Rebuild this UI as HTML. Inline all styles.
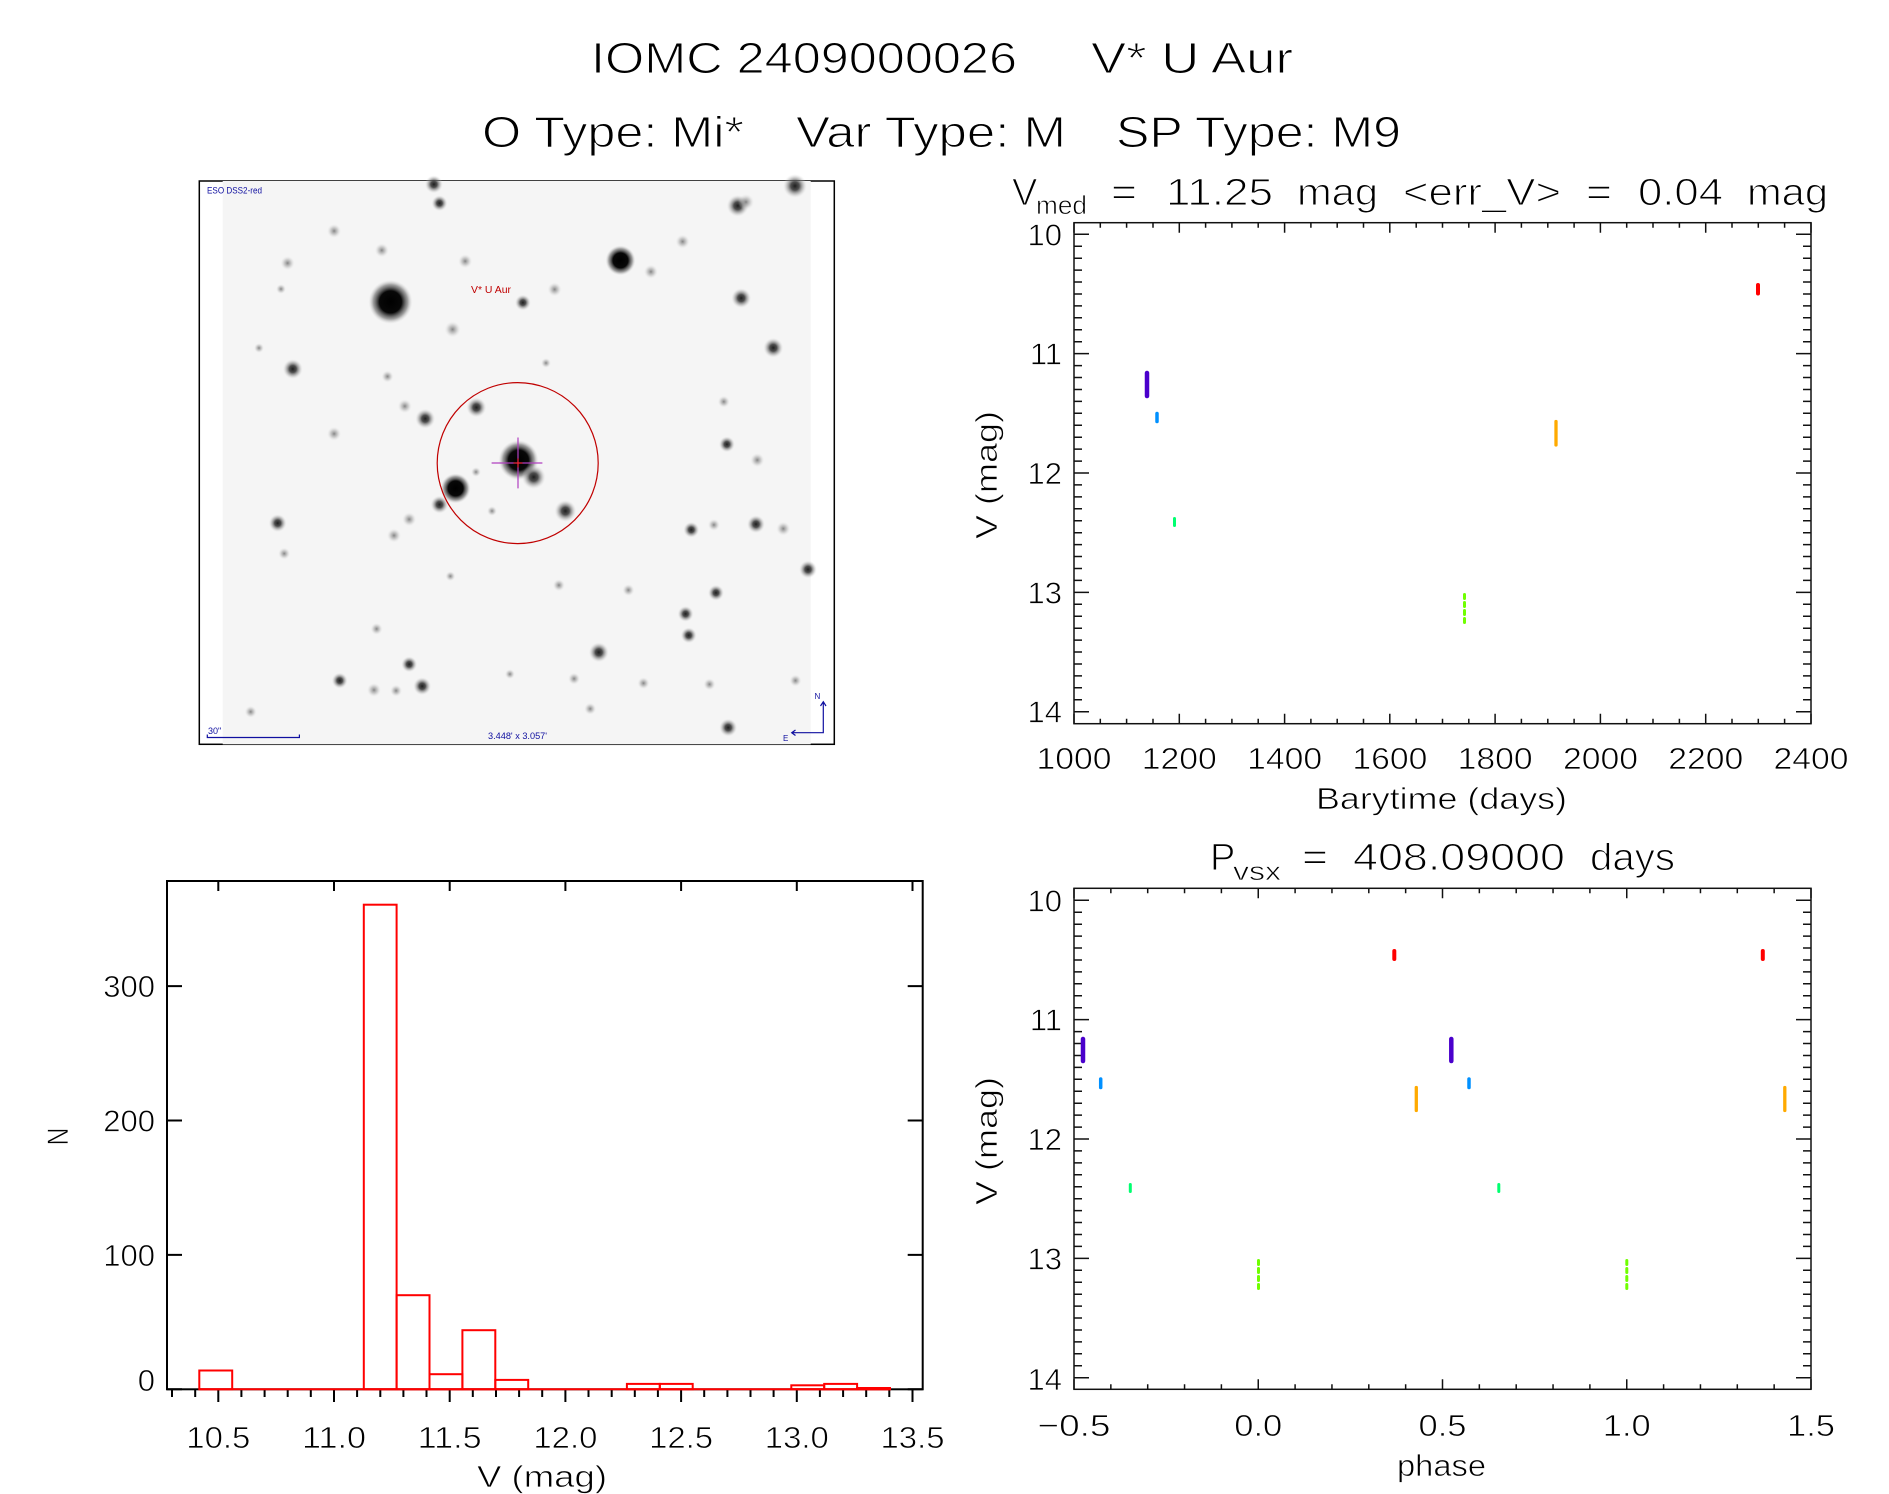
<!DOCTYPE html>
<html><head><meta charset="utf-8"><style>
html,body{margin:0;padding:0;background:#fff;}
svg{display:block;}
text{font-family:"Liberation Sans",Arial,sans-serif;fill:#000;stroke:#fff;stroke-width:0.7px;}
text.big{stroke-width:1.1px;}
text.img{stroke:none;}
</style></head><body>
<svg width="1889" height="1494" viewBox="0 0 1889 1494" xmlns="http://www.w3.org/2000/svg">
<defs>
<radialGradient id="g1"><stop offset="0" stop-color="#000" stop-opacity="1"/><stop offset="0.5" stop-color="#080808" stop-opacity="1"/><stop offset="0.78" stop-color="#555" stop-opacity="0.55"/><stop offset="1" stop-color="#ccc" stop-opacity="0"/></radialGradient>
<radialGradient id="g2"><stop offset="0" stop-color="#1e1e1e" stop-opacity="1"/><stop offset="0.35" stop-color="#383838" stop-opacity="0.88"/><stop offset="0.7" stop-color="#8a8a8a" stop-opacity="0.42"/><stop offset="1" stop-color="#ddd" stop-opacity="0"/></radialGradient>
<radialGradient id="g3"><stop offset="0" stop-color="#707070" stop-opacity="0.85"/><stop offset="0.5" stop-color="#9a9a9a" stop-opacity="0.45"/><stop offset="1" stop-color="#ddd" stop-opacity="0"/></radialGradient>
<path id="ytl" d="M0 0h15M0 11.9h8M0 23.9h8M0 35.8h8M0 47.7h8M0 59.7h8M0 71.6h8M0 83.5h8M0 95.5h8M0 107.4h8M0 119.35h15M0 131.3h8M0 143.2h8M0 155.2h8M0 167.1h8M0 179h8M0 191h8M0 202.9h8M0 214.8h8M0 226.8h8M0 238.7h15M0 250.6h8M0 262.6h8M0 274.5h8M0 286.4h8M0 298.4h8M0 310.3h8M0 322.2h8M0 334.2h8M0 346.1h8M0 358.1h15M0 370h8M0 381.9h8M0 393.9h8M0 405.8h8M0 417.7h8M0 429.7h8M0 441.6h8M0 453.5h8M0 465.5h8M0 477.4h15" fill="none" stroke="#111" stroke-width="1.5"/>
<g id="ytk"><use href="#ytl"/><use href="#ytl" transform="translate(737 0) scale(-1 1)"/></g>
<path id="xtt" d="M0 0v10M26.3 0v5M52.6 0v5M79 0v5M105.3 0v10M131.6 0v5M157.9 0v5M184.2 0v5M210.6 0v10M236.9 0v5M263.2 0v5M289.5 0v5M315.8 0v10M342.2 0v5M368.5 0v5M394.8 0v5M421.1 0v10M447.4 0v5M473.8 0v5M500.1 0v5M526.4 0v10M552.7 0v5M579 0v5M605.4 0v5M631.7 0v10M658 0v5M684.3 0v5M710.6 0v5M737 0v10" fill="none" stroke="#111" stroke-width="1.5"/>
<g id="xtk"><use href="#xtt"/><use href="#xtt" transform="translate(0 501) scale(1 -1)"/></g>
<path id="xpt" d="M0 0v10M36.85 0v5M73.7 0v5M110.55 0v5M147.4 0v5M184.25 0v10M221.1 0v5M257.95 0v5M294.8 0v5M331.65 0v5M368.5 0v10M405.35 0v5M442.2 0v5M479.05 0v5M515.9 0v5M552.75 0v10M589.6 0v5M626.45 0v5M663.3 0v5M700.15 0v5M737 0v10" fill="none" stroke="#111" stroke-width="1.5"/>
<g id="xpk"><use href="#xpt"/><use href="#xpt" transform="translate(0 501) scale(1 -1)"/></g>
</defs>

<!-- Titles -->
<text class="big" x="591" y="73" font-size="44" textLength="426" lengthAdjust="spacingAndGlyphs">IOMC 2409000026</text>
<text class="big" x="1091" y="73" font-size="44" textLength="202" lengthAdjust="spacingAndGlyphs">V* U Aur</text>
<text class="big" x="482" y="147" font-size="44" textLength="262" lengthAdjust="spacingAndGlyphs">O Type: Mi*</text>
<text class="big" x="796" y="147" font-size="44" textLength="270" lengthAdjust="spacingAndGlyphs">Var Type: M</text>
<text class="big" x="1116" y="147" font-size="44" textLength="285" lengthAdjust="spacingAndGlyphs">SP Type: M9</text>

<!-- Image panel -->
<rect x="199.3" y="181" width="635" height="563.3" fill="#fff" stroke="#000" stroke-width="1.5"/>
<rect x="222.7" y="181" width="588" height="563.3" fill="#f5f5f5"/>
<g>
<circle cx="390.5" cy="301.9" r="22" fill="url(#g1)"/>
<circle cx="620.5" cy="260.4" r="15" fill="url(#g1)"/>
<circle cx="518.5" cy="460.1" r="20" fill="url(#g1)"/>
<circle cx="533.7" cy="477.1" r="12" fill="url(#g2)"/>
<circle cx="455.6" cy="488.4" r="15" fill="url(#g1)"/>
<circle cx="565.4" cy="511" r="11" fill="url(#g2)"/>
<circle cx="425.2" cy="418.7" r="10" fill="url(#g2)"/>
<circle cx="476.4" cy="407.4" r="10" fill="url(#g2)"/>
<circle cx="292.8" cy="369" r="10" fill="url(#g2)"/>
<circle cx="773.3" cy="347.8" r="10" fill="url(#g2)"/>
<circle cx="741.2" cy="298.1" r="10" fill="url(#g2)"/>
<circle cx="737.7" cy="205.8" r="11" fill="url(#g2)"/>
<circle cx="746" cy="202" r="8" fill="url(#g3)"/>
<circle cx="795" cy="186" r="12" fill="url(#g2)"/>
<circle cx="433.9" cy="184.3" r="9" fill="url(#g2)"/>
<circle cx="439.5" cy="203.2" r="8" fill="url(#g2)"/>
<circle cx="277.7" cy="523.1" r="9" fill="url(#g2)"/>
<circle cx="439.5" cy="504.6" r="9" fill="url(#g2)"/>
<circle cx="756" cy="524.2" r="9" fill="url(#g2)"/>
<circle cx="808" cy="569.4" r="9" fill="url(#g2)"/>
<circle cx="598.8" cy="652.3" r="10" fill="url(#g2)"/>
<circle cx="422.2" cy="686.2" r="9" fill="url(#g2)"/>
<circle cx="728.2" cy="727.6" r="9" fill="url(#g2)"/>
<circle cx="409.2" cy="664.3" r="8" fill="url(#g2)"/>
<circle cx="339.7" cy="680.6" r="8" fill="url(#g2)"/>
<circle cx="716" cy="592.8" r="8" fill="url(#g2)"/>
<circle cx="685.6" cy="613.9" r="8" fill="url(#g2)"/>
<circle cx="688.7" cy="635.3" r="8" fill="url(#g2)"/>
<circle cx="726.9" cy="444.3" r="8" fill="url(#g2)"/>
<circle cx="691.3" cy="529.8" r="8" fill="url(#g2)"/>
<circle cx="334.1" cy="231" r="7" fill="url(#g3)"/>
<circle cx="381.8" cy="250.3" r="7" fill="url(#g3)"/>
<circle cx="287.6" cy="263.1" r="7" fill="url(#g3)"/>
<circle cx="465.2" cy="261.2" r="7" fill="url(#g3)"/>
<circle cx="682.6" cy="241.6" r="7" fill="url(#g3)"/>
<circle cx="650.9" cy="271.7" r="7" fill="url(#g3)"/>
<circle cx="554.6" cy="289.4" r="7" fill="url(#g3)"/>
<circle cx="522.9" cy="302.6" r="8" fill="url(#g2)"/>
<circle cx="452.6" cy="329.4" r="8" fill="url(#g3)"/>
<circle cx="387.5" cy="376.5" r="6" fill="url(#g3)"/>
<circle cx="404.8" cy="406.2" r="7" fill="url(#g3)"/>
<circle cx="334.1" cy="433.8" r="7" fill="url(#g3)"/>
<circle cx="723.8" cy="401.7" r="6" fill="url(#g3)"/>
<circle cx="757.3" cy="460.1" r="7" fill="url(#g3)"/>
<circle cx="409.2" cy="519.3" r="7" fill="url(#g3)"/>
<circle cx="394" cy="535.5" r="7" fill="url(#g3)"/>
<circle cx="713.9" cy="524.9" r="6" fill="url(#g3)"/>
<circle cx="783.3" cy="528.7" r="7" fill="url(#g3)"/>
<circle cx="284.2" cy="553.6" r="6" fill="url(#g3)"/>
<circle cx="558.9" cy="585.2" r="6" fill="url(#g3)"/>
<circle cx="628.4" cy="590.1" r="6" fill="url(#g3)"/>
<circle cx="374" cy="690" r="7" fill="url(#g3)"/>
<circle cx="396.1" cy="690.7" r="6" fill="url(#g3)"/>
<circle cx="376.6" cy="628.9" r="6" fill="url(#g3)"/>
<circle cx="795.5" cy="680.6" r="6" fill="url(#g3)"/>
<circle cx="643.5" cy="683.2" r="6" fill="url(#g3)"/>
<circle cx="709.5" cy="684.3" r="6" fill="url(#g3)"/>
<circle cx="574.1" cy="678.7" r="6" fill="url(#g3)"/>
<circle cx="509.9" cy="674.1" r="5" fill="url(#g3)"/>
<circle cx="590.2" cy="708.8" r="6" fill="url(#g3)"/>
<circle cx="250.7" cy="711.8" r="6" fill="url(#g3)"/>
<circle cx="450.4" cy="576.2" r="5" fill="url(#g3)"/>
<circle cx="259" cy="348" r="5" fill="url(#g3)"/>
<circle cx="281" cy="289" r="5" fill="url(#g3)"/>
<circle cx="546" cy="363" r="5" fill="url(#g3)"/>
<circle cx="476" cy="472" r="5" fill="url(#g3)"/>
<circle cx="492" cy="511" r="5" fill="url(#g3)"/>
</g>
<circle cx="517.7" cy="463.1" r="80.5" fill="none" stroke="#c00000" stroke-width="1.2"/>
<path d="M491.6 463H542.4M518 437.5V488.4" stroke="#b040c0" stroke-width="1.2" fill="none"/>
<path d="M513.5 463h9M518 458.5v9" stroke="#ff2020" stroke-width="1" fill="none"/>
<text class="img" x="207" y="193.5" font-size="9" style="fill:#1010a0" textLength="55" lengthAdjust="spacingAndGlyphs">ESO DSS2-red</text>
<text class="img" x="471" y="293" font-size="10" style="fill:#c00000" textLength="40" lengthAdjust="spacingAndGlyphs">V* U Aur</text>
<text class="img" x="208" y="734" font-size="9" style="fill:#1010a0">30"</text>
<path d="M207.3 734.5V737.5H299.4V734.5" stroke="#1010a0" stroke-width="1.2" fill="none"/>
<text class="img" x="488" y="739" font-size="9" style="fill:#1010a0" textLength="59" lengthAdjust="spacingAndGlyphs">3.448' x 3.057'</text>
<path d="M823.3 702V732.7H791.7M820.5 706L823.3 701.7L826 706M795.5 730L791.7 732.7L795.5 735.5" stroke="#1010a0" stroke-width="1.2" fill="none"/>
<text class="img" x="814.5" y="699" font-size="8" style="fill:#1010a0">N</text>
<text class="img" x="783" y="741" font-size="8" style="fill:#1010a0">E</text>

<!-- Top-right plot -->
<text class="big" x="1012" y="205" font-size="38">V</text>
<text x="1036" y="214" font-size="26" textLength="51" lengthAdjust="spacingAndGlyphs">med</text>
<text class="big" x="1111" y="205" font-size="38" textLength="26" lengthAdjust="spacingAndGlyphs">=</text>
<text class="big" x="1166" y="205" font-size="38" textLength="107" lengthAdjust="spacingAndGlyphs">11.25</text>
<text class="big" x="1297" y="205" font-size="38" textLength="81" lengthAdjust="spacingAndGlyphs">mag</text>
<text class="big" x="1403" y="205" font-size="38" textLength="158" lengthAdjust="spacingAndGlyphs">&lt;err_V&gt;</text>
<text class="big" x="1586" y="205" font-size="38" textLength="26" lengthAdjust="spacingAndGlyphs">=</text>
<text class="big" x="1638" y="205" font-size="38" textLength="85" lengthAdjust="spacingAndGlyphs">0.04</text>
<text class="big" x="1747" y="205" font-size="38" textLength="81" lengthAdjust="spacingAndGlyphs">mag</text>

<rect x="1074" y="222.7" width="737" height="501" fill="none" stroke="#111" stroke-width="1.5"/>
<use href="#ytk" transform="translate(1074 234.3)"/>
<use href="#xtk" transform="translate(1074 222.7)"/>
<g font-size="31" text-anchor="end">
<text x="1062" y="245.3">10</text><text x="1062" y="364.7">11</text><text x="1062" y="484">12</text><text x="1062" y="603.4">13</text><text x="1062" y="722.7">14</text>
</g>
<g font-size="31" text-anchor="middle">
<text x="1074" y="769" textLength="75" lengthAdjust="spacingAndGlyphs">1000</text>
<text x="1179.3" y="769" textLength="75" lengthAdjust="spacingAndGlyphs">1200</text>
<text x="1284.6" y="769" textLength="75" lengthAdjust="spacingAndGlyphs">1400</text>
<text x="1389.9" y="769" textLength="75" lengthAdjust="spacingAndGlyphs">1600</text>
<text x="1495.2" y="769" textLength="75" lengthAdjust="spacingAndGlyphs">1800</text>
<text x="1600.5" y="769" textLength="75" lengthAdjust="spacingAndGlyphs">2000</text>
<text x="1705.8" y="769" textLength="75" lengthAdjust="spacingAndGlyphs">2200</text>
<text x="1811" y="769" textLength="75" lengthAdjust="spacingAndGlyphs">2400</text>
</g>
<text x="1316" y="809" font-size="31" textLength="251" lengthAdjust="spacingAndGlyphs">Barytime (days)</text>
<text transform="translate(997 475) rotate(-90)" font-size="31" text-anchor="middle" textLength="128" lengthAdjust="spacingAndGlyphs">V (mag)</text>
<g stroke-linecap="round" fill="none">
<line x1="1147" y1="373" x2="1147" y2="396" stroke="#4a00cc" stroke-width="4.5"/>
<line x1="1157" y1="413.5" x2="1157" y2="421.5" stroke="#0090ff" stroke-width="3.5"/>
<line x1="1174.5" y1="518.5" x2="1174.5" y2="525.5" stroke="#00ff70" stroke-width="3"/>
<line x1="1464.5" y1="594.5" x2="1464.5" y2="624" stroke="#70ff00" stroke-width="3" stroke-dasharray="4 4"/>
<line x1="1556" y1="421.5" x2="1556" y2="445" stroke="#ffaa00" stroke-width="3.3"/>
<line x1="1758" y1="285" x2="1758" y2="293.5" stroke="#ff0000" stroke-width="4"/>
</g>

<!-- Phase plot -->
<text class="big" x="1210" y="870" font-size="38">P</text>
<text x="1233" y="880" font-size="26" textLength="48" lengthAdjust="spacingAndGlyphs">vsx</text>
<text class="big" x="1302" y="870" font-size="38" textLength="26" lengthAdjust="spacingAndGlyphs">=</text>
<text class="big" x="1353" y="870" font-size="38" textLength="212" lengthAdjust="spacingAndGlyphs">408.09000</text>
<text class="big" x="1590" y="870" font-size="38" textLength="85" lengthAdjust="spacingAndGlyphs">days</text>

<rect x="1074" y="888.3" width="737" height="501" fill="none" stroke="#111" stroke-width="1.5"/>
<use href="#ytk" transform="translate(1074 900.3)"/>
<use href="#xpk" transform="translate(1074 888.3)"/>
<g font-size="31" text-anchor="end">
<text x="1062" y="911.3">10</text><text x="1062" y="1030.7">11</text><text x="1062" y="1150">12</text><text x="1062" y="1269.4">13</text><text x="1062" y="1390">14</text>
</g>
<g font-size="31" text-anchor="middle">
<text x="1074" y="1436" textLength="73" lengthAdjust="spacingAndGlyphs">−0.5</text>
<text x="1258.25" y="1436" textLength="48" lengthAdjust="spacingAndGlyphs">0.0</text>
<text x="1442.5" y="1436" textLength="48" lengthAdjust="spacingAndGlyphs">0.5</text>
<text x="1626.75" y="1436" textLength="48" lengthAdjust="spacingAndGlyphs">1.0</text>
<text x="1811" y="1436" textLength="48" lengthAdjust="spacingAndGlyphs">1.5</text>
</g>
<text x="1397" y="1476" font-size="31" textLength="89" lengthAdjust="spacingAndGlyphs">phase</text>
<text transform="translate(997 1141) rotate(-90)" font-size="31" text-anchor="middle" textLength="128" lengthAdjust="spacingAndGlyphs">V (mag)</text>
<g stroke-linecap="round" fill="none">
<line x1="1083" y1="1039" x2="1083" y2="1061" stroke="#4a00cc" stroke-width="4.5"/>
<line x1="1451.3" y1="1039" x2="1451.3" y2="1061" stroke="#4a00cc" stroke-width="4.5"/>
<line x1="1100.7" y1="1079" x2="1100.7" y2="1087.5" stroke="#0090ff" stroke-width="3.5"/>
<line x1="1469" y1="1079" x2="1469" y2="1087.5" stroke="#0090ff" stroke-width="3.5"/>
<line x1="1130.3" y1="1184.5" x2="1130.3" y2="1191.5" stroke="#00ff70" stroke-width="3"/>
<line x1="1498.8" y1="1184.5" x2="1498.8" y2="1191.5" stroke="#00ff70" stroke-width="3"/>
<line x1="1394.3" y1="951" x2="1394.3" y2="959" stroke="#ff0000" stroke-width="4"/>
<line x1="1762.8" y1="951" x2="1762.8" y2="959" stroke="#ff0000" stroke-width="4"/>
<line x1="1416.3" y1="1087.5" x2="1416.3" y2="1110.5" stroke="#ffaa00" stroke-width="3.3"/>
<line x1="1784.8" y1="1087.5" x2="1784.8" y2="1110.5" stroke="#ffaa00" stroke-width="3.3"/>
<line x1="1258.5" y1="1260.5" x2="1258.5" y2="1289" stroke="#70ff00" stroke-width="3" stroke-dasharray="4 4"/>
<line x1="1626.8" y1="1260.5" x2="1626.8" y2="1289" stroke="#70ff00" stroke-width="3" stroke-dasharray="4 4"/>
</g>

<!-- Histogram -->
<rect x="167" y="881" width="755.7" height="508.3" fill="none" stroke="#000" stroke-width="2"/>
<path d="M167 1389.3h15M167 1254.9h15M167 1120.5h15M167 986.1h15M922.7 1389.3h-15M922.7 1254.9h-15M922.7 1120.5h-15M922.7 986.1h-15M218.3 881v10M334 881v10M449.7 881v10M565.4 881v10M681.1 881v10M796.8 881v10M912.5 881v10" stroke="#000" stroke-width="2" fill="none"/>
<path d="M172 1390v7M195.2 1390v7M218.3 1390v12M241.4 1390v7M264.6 1390v7M287.7 1390v7M310.8 1390v7M334 1390v12M357.1 1390v7M380.3 1390v7M403.4 1390v7M426.5 1390v7M449.7 1390v12M472.8 1390v7M496 1390v7M519.1 1390v7M542.2 1390v7M565.4 1390v12M588.5 1390v7M611.7 1390v7M634.8 1390v7M657.9 1390v7M681.1 1390v12M704.2 1390v7M727.4 1390v7M750.5 1390v7M773.6 1390v7M796.8 1390v12M819.9 1390v7M843.1 1390v7M866.2 1390v7M889.3 1390v7M912.5 1390v12" stroke="#000" stroke-width="2" fill="none"/>
<g fill="none" stroke="#ff0000" stroke-width="2">
<path d="M199.3 1389.3H890"/>
<rect x="199.3" y="1370.5" width="32.9" height="18.8"/>
<rect x="363.8" y="904.7" width="32.8" height="484.6"/>
<rect x="396.6" y="1295.2" width="32.9" height="94.1"/>
<rect x="429.5" y="1374.2" width="32.9" height="15.1"/>
<rect x="462.4" y="1330.2" width="32.9" height="59.1"/>
<rect x="495.3" y="1379.9" width="32.9" height="9.4"/>
<rect x="626.9" y="1383.9" width="32.9" height="5.4"/>
<rect x="659.8" y="1383.9" width="32.9" height="5.4"/>
<rect x="791.3" y="1385.3" width="32.9" height="4"/>
<rect x="824.2" y="1383.9" width="32.9" height="5.4"/>
<rect x="857.1" y="1388" width="32.9" height="1.3"/>
</g>
<g font-size="31" text-anchor="end">
<text x="155" y="997">300</text><text x="155" y="1131.5">200</text><text x="155" y="1266">100</text><text x="155" y="1391">0</text>
</g>
<g font-size="31" text-anchor="middle">
<text x="218.3" y="1448" textLength="64" lengthAdjust="spacingAndGlyphs">10.5</text>
<text x="334" y="1448" textLength="64" lengthAdjust="spacingAndGlyphs">11.0</text>
<text x="449.7" y="1448" textLength="64" lengthAdjust="spacingAndGlyphs">11.5</text>
<text x="565.4" y="1448" textLength="64" lengthAdjust="spacingAndGlyphs">12.0</text>
<text x="681.1" y="1448" textLength="64" lengthAdjust="spacingAndGlyphs">12.5</text>
<text x="796.8" y="1448" textLength="64" lengthAdjust="spacingAndGlyphs">13.0</text>
<text x="912.5" y="1448" textLength="64" lengthAdjust="spacingAndGlyphs">13.5</text>
</g>
<text x="477" y="1487" font-size="31" textLength="130" lengthAdjust="spacingAndGlyphs">V (mag)</text>
<text transform="translate(68 1136.5) rotate(-90)" font-size="30" text-anchor="middle" textLength="18" lengthAdjust="spacingAndGlyphs">N</text>
</svg>
</body></html>
